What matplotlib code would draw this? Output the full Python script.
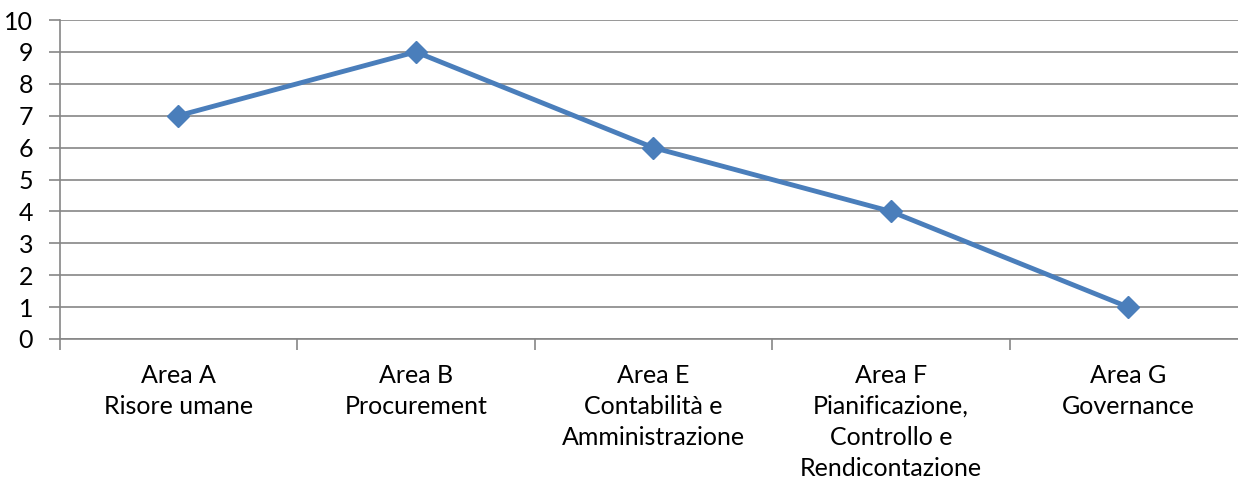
import matplotlib
matplotlib.use("Agg")
import matplotlib.pyplot as plt
import numpy as np

categories = ["Area A\nRisore umane", "Area B\nProcurement", "Area E\nContabilità e\nAmministrazione",
              "Area F\nPianificazione,\nControllo e\nRendicontazione", "Area G\nGovernance"]
values = [7, 9, 6, 4, 1]
yticks = list(range(0, 11))

plt.rcParams['font.family'] = ['Lato', 'DejaVu Sans']

fig = plt.figure(figsize=(12.38, 4.82), dpi=100)
ax = fig.add_axes([59.5/1238, 143/482, 1187.5/1238, 319/482])

x = np.arange(len(categories))
ax.plot(x, values, color='#4A7EBB', lw=3.5, marker='D', markersize=11,
        markerfacecolor='#4A7EBB', markeredgecolor='#4A7EBB', zorder=3, clip_on=False)

ax.set_xlim(-0.5, len(categories) - 0.5)
ax.set_ylim(0, 10)
ax.set_yticks(yticks)
ax.set_yticklabels([str(t) for t in yticks], fontsize=18)
ax.yaxis.grid(True, color='#868686', lw=1.2)
ax.set_axisbelow(True)

ax.set_xticks(x)
ax.set_xticklabels(categories, fontsize=18, linespacing=1.42, va='top')
ax.tick_params(axis='x', which='major', length=0, pad=18)
ax.set_xticks(np.arange(-0.5, len(categories), 1.0), minor=True)
ax.tick_params(axis='x', which='minor', length=8, color='#868686', width=1.2, direction='out')
ax.tick_params(axis='y', length=8, color='#868686', width=1.2, direction='out', pad=11)

for s in ['top', 'right']:
    ax.spines[s].set_visible(False)
for s in ['left', 'bottom']:
    ax.spines[s].set_color('#868686')
    ax.spines[s].set_linewidth(1.2)

fig.savefig("out.png", dpi=100)
